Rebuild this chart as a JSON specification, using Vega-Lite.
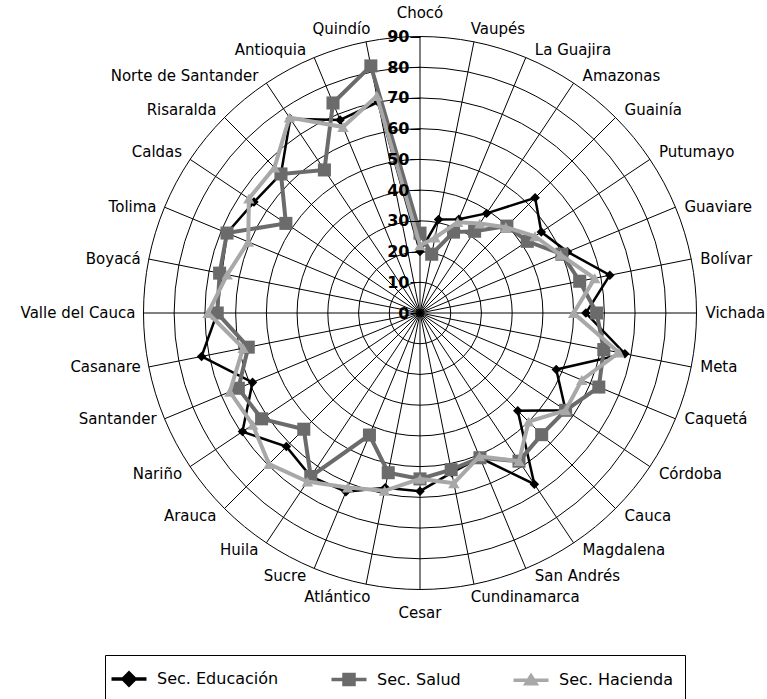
{
"$schema": "https://vega.github.io/schema/vega-lite/v6.json",
"width": 600, "height": 600,
"autosize": {"type": "none"},
"padding": {"left": 120, "top": 13, "right": 47, "bottom": 86},
"background": "white",
"config": {"view": {"stroke": null}},
"datasets": {
"cats": [
{"cat": "Chocó", "idx": 0, "E": 20, "S": 26, "H": 22},
{"cat": "Vaupés", "idx": 1, "E": 31, "S": 19.5, "H": 25},
{"cat": "La Guajira", "idx": 2, "E": 33, "S": 28.5, "H": 32},
{"cat": "Amazonas", "idx": 3, "E": 39, "S": 32, "H": 35},
{"cat": "Guainía", "idx": 4, "E": 53, "S": 40, "H": 39.5},
{"cat": "Putumayo", "idx": 5, "E": 47.5, "S": 42, "H": 45},
{"cat": "Guaviare", "idx": 6, "E": 52, "S": 50, "H": 49.5},
{"cat": "Bolívar", "idx": 7, "E": 63, "S": 53, "H": 58},
{"cat": "Vichada", "idx": 8, "E": 54, "S": 57.5, "H": 50},
{"cat": "Meta", "idx": 9, "E": 68, "S": 61, "H": 66},
{"cat": "Caquetá", "idx": 10, "E": 48, "S": 63, "H": 57},
{"cat": "Córdoba", "idx": 11, "E": 57, "S": 57, "H": 57},
{"cat": "Cauca", "idx": 12, "E": 45, "S": 56, "H": 50},
{"cat": "Magdalena", "idx": 13, "E": 67, "S": 58, "H": 58},
{"cat": "San Andrés", "idx": 14, "E": 51, "S": 51, "H": 50.5},
{"cat": "Cundinamarca", "idx": 15, "E": 53, "S": 52, "H": 56.5},
{"cat": "Cesar", "idx": 16, "E": 58, "S": 54, "H": 54},
{"cat": "Atlántico", "idx": 17, "E": 58, "S": 53, "H": 59},
{"cat": "Sucre", "idx": 18, "E": 63, "S": 43, "H": 61.5},
{"cat": "Huila", "idx": 19, "E": 64, "S": 64, "H": 66},
{"cat": "Arauca", "idx": 20, "E": 61.5, "S": 53.5, "H": 69.5},
{"cat": "Nariño", "idx": 21, "E": 69.5, "S": 62, "H": 65.5},
{"cat": "Santander", "idx": 22, "E": 59, "S": 64, "H": 67},
{"cat": "Casanare", "idx": 23, "E": 72.5, "S": 57, "H": 58.7},
{"cat": "Valle del Cauca", "idx": 24, "E": 66, "S": 66, "H": 69},
{"cat": "Boyacá", "idx": 25, "E": 66, "S": 66.5, "H": 64},
{"cat": "Tolima", "idx": 26, "E": 68, "S": 68, "H": 60.5},
{"cat": "Caldas", "idx": 27, "E": 65, "S": 52.5, "H": 67},
{"cat": "Risaralda", "idx": 28, "E": 64, "S": 64, "H": 67},
{"cat": "Norte de Santander", "idx": 29, "E": 76, "S": 56, "H": 76.5},
{"cat": "Antioquia", "idx": 30, "E": 68, "S": 74, "H": 65.5},
{"cat": "Quindío", "idx": 31, "E": 70, "S": 82, "H": 72}
],
"rings": [{"r": 10}, {"r": 20}, {"r": 30}, {"r": 40}, {"r": 50}, {"r": 60}, {"r": 70}, {"r": 80}, {"r": 90}]
},
"layer": [
{
"data": {"name": "rings"},
"mark": {"type": "arc", "filled": false, "stroke": "black", "strokeWidth": 1, "theta": 0, "theta2": 6.2832},
"encoding": {
"radius": {"field": "r", "type": "quantitative", "stack": null, "scale": {"type": "linear", "domain": [0, 97.65], "range": [0, 300], "zero": true}}
}
},
{
"data": {"name": "cats"},
"transform": [
{"calculate": "datum.idx*PI/16", "as": "a"},
{"calculate": "90*sin(datum.a)", "as": "sx"},
{"calculate": "90*cos(datum.a)", "as": "sy"}
],
"mark": {"type": "rule", "color": "black", "strokeWidth": 1},
"encoding": {
"x": {"field": "sx", "type": "quantitative", "scale": {"domain": [-97.65, 97.65], "nice": false, "zero": false}, "axis": null},
"y": {"field": "sy", "type": "quantitative", "scale": {"domain": [-97.65, 97.65], "nice": false, "zero": false},
"axis": {"values": [0, 10, 20, 30, 40, 50, 60, 70, 80, 90], "orient": "left", "offset": -300, "domain": false, "grid": false, "ticks": true, "tickSize": 10, "tickColor": "black", "tickWidth": 1, "labelFont": "DejaVu Sans", "labelFontWeight": "bold", "labelFontSize": 16, "labelColor": "black", "labelPadding": 1, "labelFlush": false, "labelOverlap": false, "title": null, "zindex": 1}},
"x2": {"datum": 0},
"y2": {"datum": 0}
}
},
{
"data": {"name": "cats"},
"transform": [
{"calculate": "datum.idx*PI/16", "as": "a"},
{"calculate": "sin(datum.a)", "as": "s"},
{"calculate": "cos(datum.a)", "as": "c"},
{"calculate": "90*datum.s + ((abs(datum.s)>0.1 && abs(datum.s)<0.25) ? -4*(datum.s>0?1:-1) : 0)", "as": "lx"},
{"calculate": "90*datum.c + (datum.c>0?1:-1)*(abs(datum.s)<0.1 ? 7.5 : (abs(datum.s)<0.25 ? 4.2 : (abs(datum.c)>0.5 ? 2.3 : 0)))", "as": "ly"}
],
"encoding": {
"x": {"field": "lx", "type": "quantitative", "scale": {"domain": [-97.65, 97.65], "nice": false, "zero": false}, "axis": null},
"y": {"field": "ly", "type": "quantitative", "scale": {"domain": [-97.65, 97.65], "nice": false, "zero": false},
"axis": {"values": [0, 10, 20, 30, 40, 50, 60, 70, 80, 90], "orient": "left", "offset": -300, "domain": false, "grid": false, "ticks": true, "tickSize": 10, "tickColor": "black", "tickWidth": 1, "labelFont": "DejaVu Sans", "labelFontWeight": "bold", "labelFontSize": 16, "labelColor": "black", "labelPadding": 1, "labelFlush": false, "labelOverlap": false, "title": null, "zindex": 1}},
"text": {"field": "cat", "type": "nominal"}
},
"layer": [
{"transform": [{"filter": "datum.s > 0.1"}], "mark": {"type": "text", "align": "left", "baseline": "middle", "dx": 9, "font": "DejaVu Sans", "fontSize": 15, "color": "black"}},
{"transform": [{"filter": "datum.s < -0.1"}], "mark": {"type": "text", "align": "right", "baseline": "middle", "dx": -8, "font": "DejaVu Sans", "fontSize": 15, "color": "black"}},
{"transform": [{"filter": "abs(datum.s) <= 0.1"}], "mark": {"type": "text", "align": "center", "baseline": "middle", "font": "DejaVu Sans", "fontSize": 15, "color": "black"}}
]
},
{
"data": {"name": "cats"},
"transform": [
{"calculate": "datum.idx*PI/16", "as": "a"},
{"calculate": "sin(datum.a)", "as": "s"},
{"calculate": "cos(datum.a)", "as": "c"}
],
"layer": [
{
"transform": [{"calculate": "datum.E*datum.s", "as": "px"}, {"calculate": "datum.E*datum.c", "as": "py"}],
"encoding": {
"x": {"field": "px", "type": "quantitative", "scale": {"domain": [-97.65, 97.65], "nice": false, "zero": false}, "axis": null},
"y": {"field": "py", "type": "quantitative", "scale": {"domain": [-97.65, 97.65], "nice": false, "zero": false},
"axis": {"values": [0, 10, 20, 30, 40, 50, 60, 70, 80, 90], "orient": "left", "offset": -300, "domain": false, "grid": false, "ticks": true, "tickSize": 10, "tickColor": "black", "tickWidth": 1, "labelFont": "DejaVu Sans", "labelFontWeight": "bold", "labelFontSize": 16, "labelColor": "black", "labelPadding": 1, "labelFlush": false, "labelOverlap": false, "title": null, "zindex": 1}},
"order": {"field": "idx", "type": "quantitative"}
},
"layer": [
{"mark": {"type": "line", "interpolate": "linear-closed", "color": "#000000", "strokeWidth": 2.5}},
{"mark": {"type": "point", "filled": true, "shape": "diamond", "size": 90, "color": "#000000", "opacity": 1}}
]
},
{
"transform": [{"calculate": "datum.S*datum.s", "as": "px"}, {"calculate": "datum.S*datum.c", "as": "py"}],
"encoding": {
"x": {"field": "px", "type": "quantitative", "scale": {"domain": [-97.65, 97.65], "nice": false, "zero": false}, "axis": null},
"y": {"field": "py", "type": "quantitative", "scale": {"domain": [-97.65, 97.65], "nice": false, "zero": false},
"axis": {"values": [0, 10, 20, 30, 40, 50, 60, 70, 80, 90], "orient": "left", "offset": -300, "domain": false, "grid": false, "ticks": true, "tickSize": 10, "tickColor": "black", "tickWidth": 1, "labelFont": "DejaVu Sans", "labelFontWeight": "bold", "labelFontSize": 16, "labelColor": "black", "labelPadding": 1, "labelFlush": false, "labelOverlap": false, "title": null, "zindex": 1}},
"order": {"field": "idx", "type": "quantitative"}
},
"layer": [
{"mark": {"type": "line", "interpolate": "linear-closed", "color": "#6b6b6b", "strokeWidth": 4}},
{"mark": {"type": "point", "filled": true, "shape": "square", "size": 170, "color": "#6b6b6b", "opacity": 1}}
]
},
{
"transform": [{"calculate": "datum.H*datum.s", "as": "px"}, {"calculate": "datum.H*datum.c", "as": "py"}],
"encoding": {
"x": {"field": "px", "type": "quantitative", "scale": {"domain": [-97.65, 97.65], "nice": false, "zero": false}, "axis": null},
"y": {"field": "py", "type": "quantitative", "scale": {"domain": [-97.65, 97.65], "nice": false, "zero": false},
"axis": {"values": [0, 10, 20, 30, 40, 50, 60, 70, 80, 90], "orient": "left", "offset": -300, "domain": false, "grid": false, "ticks": true, "tickSize": 10, "tickColor": "black", "tickWidth": 1, "labelFont": "DejaVu Sans", "labelFontWeight": "bold", "labelFontSize": 16, "labelColor": "black", "labelPadding": 1, "labelFlush": false, "labelOverlap": false, "title": null, "zindex": 1}},
"order": {"field": "idx", "type": "quantitative"}
},
"layer": [
{"mark": {"type": "line", "interpolate": "linear-closed", "color": "#a8a8a8", "strokeWidth": 4}},
{"mark": {"type": "point", "filled": true, "shape": "triangle-up", "size": 130, "color": "#a8a8a8", "opacity": 1}}
]
}
]
},
{
"data": {"name": "cats"},
"transform": [{"filter": "datum.idx < 0"}],
"mark": {"type": "point", "filled": true},
"encoding": {
"fill": {"field": "serie", "type": "nominal", "scale": {"domain": ["Sec. Educación", "Sec. Salud", "Sec. Hacienda"], "range": ["#000000", "#6b6b6b", "#a8a8a8"]},
"legend": {"title": null, "orient": "none", "legendX": -15, "legendY": 642, "direction": "horizontal", "symbolSize": 400, "symbolStrokeWidth": 3.5, "labelFont": "DejaVu Sans", "labelFontSize": 16, "labelColor": "black", "labelOffset": 16, "columnPadding": 45, "padding": 12, "strokeColor": "black", "symbolOpacity": 1, "labelLimit": 300}},
"stroke": {"field": "serie", "type": "nominal", "scale": {"domain": ["Sec. Educación", "Sec. Salud", "Sec. Hacienda"], "range": ["#000000", "#6b6b6b", "#a8a8a8"]},
"legend": {"title": null, "orient": "none", "legendX": -15, "legendY": 642, "direction": "horizontal", "symbolSize": 400, "symbolStrokeWidth": 3.5, "labelFont": "DejaVu Sans", "labelFontSize": 16, "labelColor": "black", "labelOffset": 16, "columnPadding": 45, "padding": 12, "strokeColor": "black", "symbolOpacity": 1, "labelLimit": 300}},
"shape": {"field": "serie", "type": "nominal", "scale": {"domain": ["Sec. Educación", "Sec. Salud", "Sec. Hacienda"], "range": ["M-1.75,0H1.75M0,-0.6L0.6,0L0,0.6L-0.6,0Z", "M-1.75,0H1.75M-0.5,-0.5H0.5V0.5H-0.5Z", "M-1.75,0H1.75M0,-0.45L0.5,0.35L-0.5,0.35Z"]},
"legend": {"title": null, "orient": "none", "legendX": -15, "legendY": 642, "direction": "horizontal", "symbolSize": 400, "symbolStrokeWidth": 3.5, "labelFont": "DejaVu Sans", "labelFontSize": 16, "labelColor": "black", "labelOffset": 16, "columnPadding": 45, "padding": 12, "strokeColor": "black", "symbolOpacity": 1, "labelLimit": 300}}
}
}
]
}
